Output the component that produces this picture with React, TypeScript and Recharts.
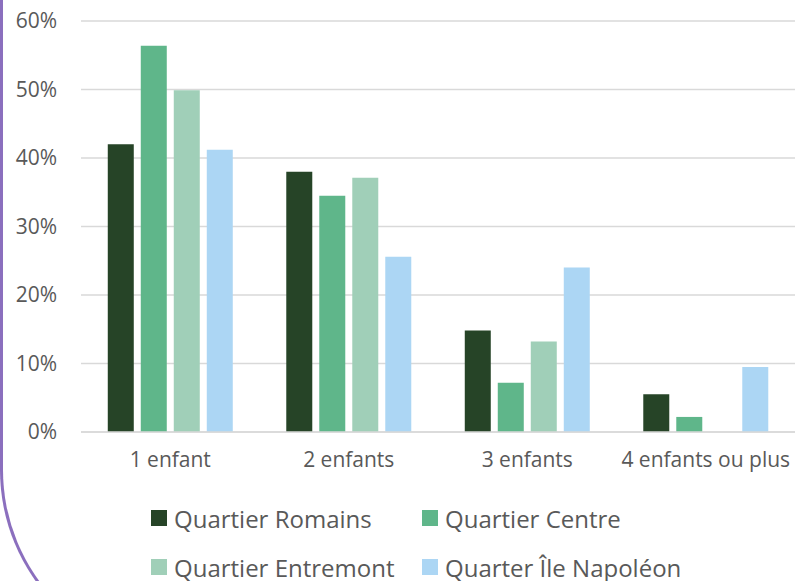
import React from "react";
import { Bar, BarChart, CartesianGrid, XAxis, YAxis } from "recharts";

// Share of households by number of children, per quartier (percent).
const CATEGORIES = ["1 enfant", "2 enfants", "3 enfants", "4 enfants ou plus"];
const ROMAINS = [42.0, 38.0, 14.8, 5.5];
const CENTRE = [56.4, 34.5, 7.2, 2.2];
const ENTREMONT = [49.9, 37.1, 13.2, 0];
const NAPOLEON = [41.2, 25.6, 24.0, 9.5];
const Y_TICKS = [0, 10, 20, 30, 40, 50, 60];

const SERIES = [
  { key: "romains", name: "Quartier Romains", color: "#264427", values: ROMAINS },
  { key: "centre", name: "Quartier Centre", color: "#5fb68a", values: CENTRE },
  { key: "entremont", name: "Quartier Entremont", color: "#a0cfb8", values: ENTREMONT },
  { key: "napoleon", name: "Quarter Île Napoléon", color: "#acd6f4", values: NAPOLEON },
];

const data = CATEGORIES.map((name, i) => {
  const row: Record<string, string | number> = { name };
  SERIES.forEach((s) => (row[s.key] = s.values[i]));
  return row;
});

const FONT = "'Open Sans', sans-serif";
const TEXT = "#595959";
const GRID = "#d9d9d9";

function LegendBlock() {
  // Two-column grid, like the spreadsheet legend.
  const cols = [151, 422];
  const rows = [518, 567];
  return (
    <>
      {SERIES.map((s, i) => (
        <div
          key={s.key}
          style={{
            position: "absolute",
            left: cols[i % 2],
            top: rows[Math.floor(i / 2)] - 17,
            height: 34,
            display: "flex",
            alignItems: "center",
            fontFamily: FONT,
            fontSize: 24,
            color: TEXT,
            whiteSpace: "nowrap",
          }}
        >
          <span
            style={{ width: 16, height: 16, background: s.color, marginRight: 7, display: "inline-block" }}
          />
          {s.name}
        </div>
      ))}
    </>
  );
}

export default function App() {
  return (
    <div
      style={{
        position: "absolute",
        left: 0,
        top: 0,
        width: 795,
        height: 581,
        overflow: "hidden",
        background: "#fff",
      }}
    >
      {/* purple rounded frame at the left edge */}
      <div
        style={{
          position: "absolute",
          left: 0,
          top: -20,
          width: 900,
          height: 470 + 20 + 191,
          borderLeft: "3px solid #8b6fbe",
          borderBottom: "3px solid #8b6fbe",
          borderBottomLeftRadius: 191,
          boxSizing: "border-box",
        }}
      />
      <div style={{ position: "absolute", left: 0, top: 0 }}>
        <BarChart
          width={795}
          height={500}
          data={data}
          margin={{ top: 21, right: 0, bottom: 18, left: 0 }}
          barCategoryGap="15%"
          barGap={7}
        >
          <CartesianGrid vertical={false} stroke={GRID} strokeWidth={1.5} />
          <XAxis
            dataKey="name"
            height={50}
            interval={0}
            tickLine={false}
            axisLine={{ stroke: GRID, strokeWidth: 1.5 }}
            tickMargin={14}
            tick={{ fontSize: 21, fill: TEXT, fontFamily: FONT }}
          />
          <YAxis
            width={81}
            domain={[0, 60]}
            ticks={Y_TICKS}
            tickFormatter={(v: number) => `${v}%`}
            tickLine={false}
            axisLine={false}
            tickMargin={18}
            tick={{ fontSize: 21, fill: TEXT, fontFamily: FONT }}
          />
          {SERIES.map((s) => (
            <Bar key={s.key} dataKey={s.key} name={s.name} fill={s.color} isAnimationActive={false} />
          ))}
        </BarChart>
      </div>
      <LegendBlock />
    </div>
  );
}
